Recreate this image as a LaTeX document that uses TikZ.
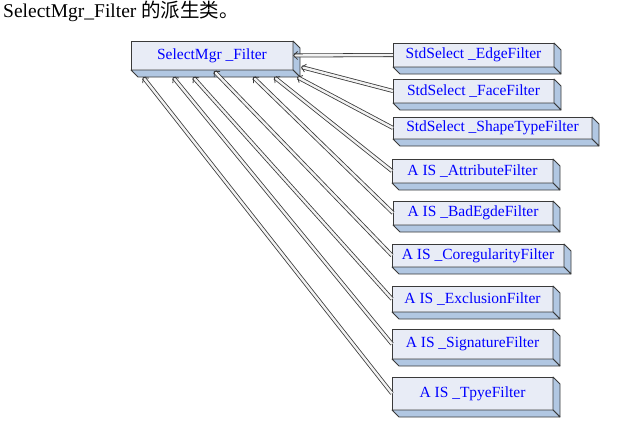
\documentclass[tikz,border=0pt]{standalone}
\usepackage{fontspec}
\setmainfont{Liberation Serif}
\newfontfamily\cjk{Noto Sans CJK SC}
\usetikzlibrary{calc,arrows.meta}
\definecolor{frontcol}{HTML}{E8ECF6}
\definecolor{sidecol}{HTML}{B1C7E2}
\definecolor{edgecol}{HTML}{3A3A3A}
\begin{document}
\begin{tikzpicture}[x=1pt, y=-1pt,
    cls/.style={draw=edgecol, line width=0.8pt, fill=frontcol, outer sep=0pt, inner sep=0pt,
      text=blue, font=\fontsize{15.5}{18}\selectfont},
    face/.style={draw=edgecol, line width=0.8pt, fill=sidecol, line join=round},
    gen/.style={draw=edgecol, line width=0.8pt, double=white!95!black, double distance=2.4pt,
      -{Straight Barb[length=4pt, width=8pt]}}]
  \useasboundingbox (0,0) rectangle (617,420);
  % Title
  \node[anchor=base west, inner sep=0pt, font=\fontsize{19.5}{24}\selectfont] (title) at (3,18)
    {SelectMgr\_Filter {\cjk 的派生类。}};
  % Base class
  \node[cls, minimum width=162pt, minimum height=29pt] (sel) at (212,55.5) {SelectMgr \_Filter};
  % Derived classes
  \foreach \nm/\x/\y/\w/\h/\txt in {
      edge/473.5/55/161/24/{StdSelect \_EdgeFilter},
      face/473.5/91/161/24/{StdSelect \_FaceFilter},
      shape/492.5/128/199/22/{StdSelect \_ShapeTypeFilter},
      attr/472.5/171/161/24/{A IS \_AttributeFilter},
      bad/473/213/160/24/{A IS \_BadEgdeFilter},
      coreg/478/255.5/172/23/{A IS \_CoregularityFilter},
      excl/472.5/299/161/26/{A IS \_ExclusionFilter},
      sig/472.5/344/161/30/{A IS \_SignatureFilter},
      tpye/472.5/393.5/161/33/{A IS \_TpyeFilter}} {
    \node[cls, minimum width=\w pt, minimum height=\h pt] (\nm) at (\x,\y) {\txt};
  }
  % Extruded sides
  \foreach \nm in {sel,edge,face,shape,attr,bad,coreg,excl,sig,tpye} {
    \draw[face] (\nm.north east) -- ($(\nm.north east)+(7,7)$) -- ($(\nm.south east)+(7,7)$)
      -- (\nm.south east) -- cycle;
    \draw[face] (\nm.south west) -- (\nm.south east) -- ($(\nm.south east)+(7,7)$)
      -- ($(\nm.south west)+(7,7)$) -- cycle;
  }
  % Arrow ends on the base class
  \coordinate (tface) at ($(sel.south east)+(8,-3)$);
  \coordinate (tshape) at ($(sel.south east)+(4,7)$);
  \coordinate (tattr) at ($(sel.south west)+(143,7)$);
  \coordinate (tbad) at ($(sel.south west)+(122,7)$);
  \coordinate (tcoreg) at ($(sel.south west)+(83,1)$);
  \coordinate (texcl) at ($(sel.south west)+(62,7)$);
  \coordinate (tsig) at ($(sel.south west)+(42,7)$);
  \coordinate (ttpye) at ($(sel.south west)+(12,7)$);
  % Inheritance
  \draw[gen] (edge.west) -- (sel.east);
  \foreach \nm in {face,shape,attr,bad,coreg,excl,sig,tpye} {
    \draw[gen] (\nm.west) -- (t\nm);
  }
\end{tikzpicture}
\end{document}
